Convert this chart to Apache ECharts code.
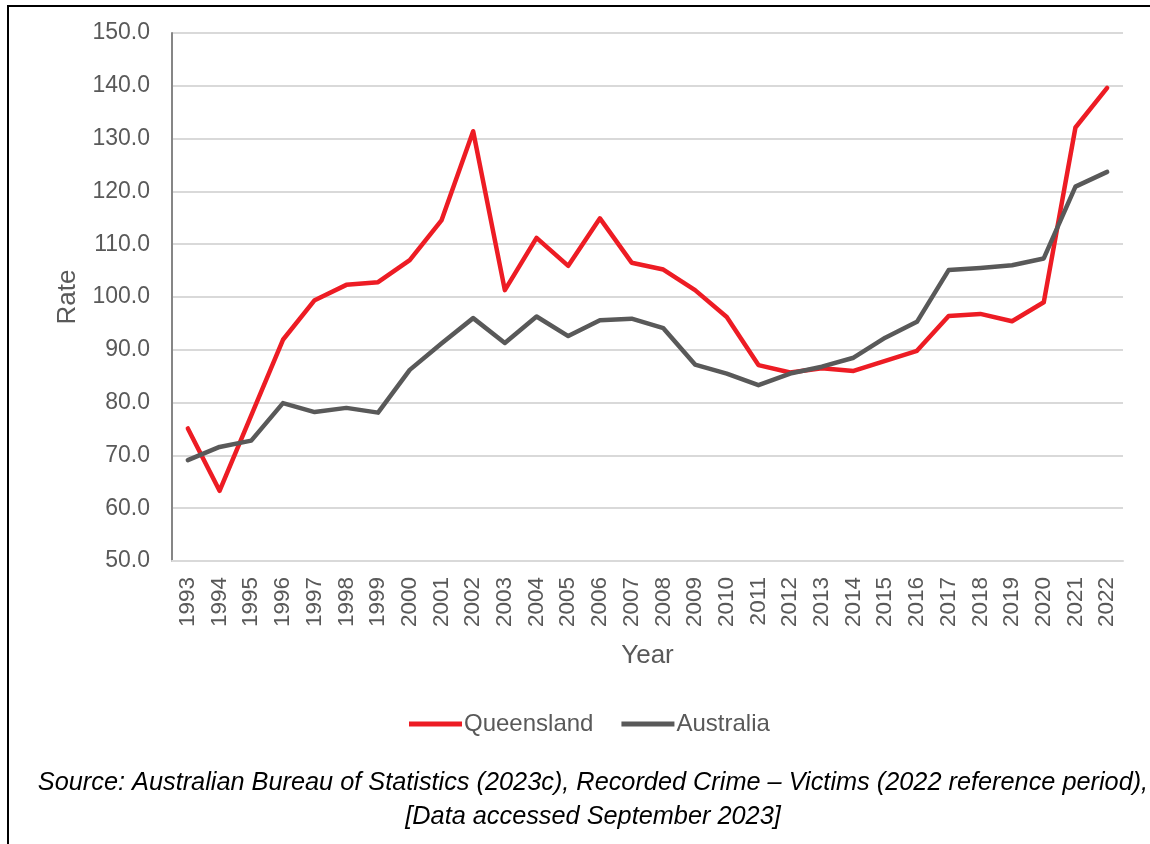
<!DOCTYPE html>
<html>
<head>
<meta charset="utf-8">
<style>
  html, body { margin: 0; padding: 0; background: #fff; }
  #frame { position: absolute; left: 7px; top: 5px; width: 1143px; height: 839px;
           border-top: 2px solid #000; border-left: 2px solid #000; box-sizing: border-box; }
  #chart { position: absolute; left: 0; top: 0; width: 1150px; height: 844px; }
</style>
<script src="https://cdn.jsdelivr.net/npm/echarts@6/dist/echarts.min.js"></script>
</head>
<body>
<div id="frame"></div>
<div id="chart"></div>
<script>
// Victimisation rate by year
const years = ['1993','1994','1995','1996','1997','1998','1999','2000','2001','2002',
               '2003','2004','2005','2006','2007','2008','2009','2010','2011','2012',
               '2013','2014','2015','2016','2017','2018','2019','2020','2021','2022'];
const queensland = [75.1, 63.3, 77.6, 91.9, 99.4, 102.3, 102.8, 107.0, 114.5, 131.4,
                    101.3, 111.2, 105.9, 114.9, 106.5, 105.2, 101.3, 96.2, 87.1, 85.7,
                    86.5, 86.0, 87.9, 89.8, 96.4, 96.8, 95.4, 99.0, 132.1, 139.6];
const australia = [69.1, 71.6, 72.8, 79.9, 78.2, 79.0, 78.1, 86.2, 91.2, 96.0,
                   91.3, 96.3, 92.6, 95.6, 95.9, 94.1, 87.2, 85.5, 83.3, 85.5,
                   86.8, 88.5, 92.3, 95.3, 105.1, 105.5, 106.0, 107.3, 120.9, 123.7];

const FONT = '"Liberation Sans", Arial, sans-serif';
const chart = echarts.init(document.getElementById('chart'));

chart.setOption({
  animation: false,
  textStyle: { fontFamily: FONT },
  title: {
    text: 'Source: Australian Bureau of Statistics (2023c), Recorded Crime \u2013 Victims (2022 reference period),\n[Data accessed September 2023]',
    left: 588, top: 761, textAlign: 'center',
    textStyle: { fontFamily: FONT, fontStyle: 'italic', fontWeight: 'normal',
                 fontSize: 25.3, color: '#000', lineHeight: 34 }
  },
  legend: {
    left: 404, top: 707,
    itemWidth: 53, itemHeight: 5, itemGap: 28,
    icon: 'rect',
    textStyle: { fontFamily: FONT, fontSize: 24, color: '#595959', padding: [0, 0, 0, -3] },
    data: ['Queensland', 'Australia']
  },
  grid: { left: 172, right: 27, top: 33, bottom: 283, containLabel: false },
  xAxis: {
    type: 'category', data: years, boundaryGap: true,
    name: 'Year', nameLocation: 'middle', nameGap: 82,
    nameTextStyle: { fontFamily: FONT, fontSize: 26, color: '#595959' },
    axisLine: { lineStyle: { color: '#d9d9d9', width: 2 } },
    axisTick: { show: false },
    axisLabel: { rotate: 90, margin: 16, fontSize: 22.5, color: '#595959', fontFamily: FONT }
  },
  yAxis: {
    type: 'value', min: 50, max: 150, interval: 10,
    name: 'Rate', nameLocation: 'middle', nameGap: 91,
    nameTextStyle: { fontFamily: FONT, fontSize: 26, color: '#595959' },
    axisLine: { show: true, lineStyle: { color: '#868686', width: 2 } },
    axisTick: { show: false },
    splitLine: { lineStyle: { color: '#d9d9d9', width: 2 } },
    axisLabel: { margin: 22, fontSize: 23, color: '#595959', fontFamily: FONT,
                 formatter: v => v.toFixed(1) }
  },
  series: [
    { name: 'Queensland', type: 'line', data: queensland, showSymbol: false,
      color: '#ed1c24', lineStyle: { width: 4.5, color: '#ed1c24', cap: 'round', join: 'round' } },
    { name: 'Australia', type: 'line', data: australia, showSymbol: false,
      color: '#595959', lineStyle: { width: 4.5, color: '#595959', cap: 'round', join: 'round' } }
  ]
});
</script>
</body>
</html>
